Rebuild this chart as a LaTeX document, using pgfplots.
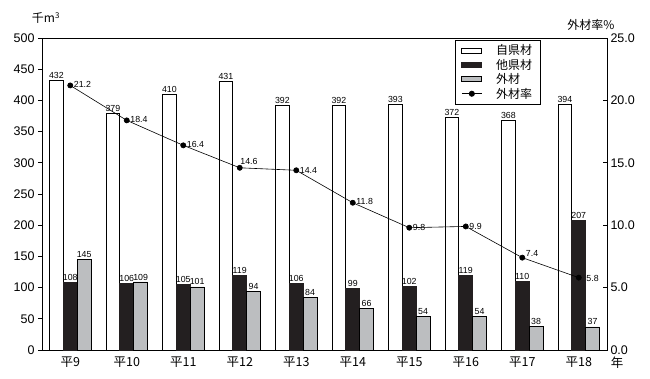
\documentclass[border=0pt]{standalone}
\usepackage{pgfplots}
\pgfplotsset{compat=1.18}
\usepackage{fontspec}
\setmainfont{Liberation Sans}
\newfontfamily\jp{Noto Sans CJK JP}
\definecolor{barblack}{HTML}{231F20}
\definecolor{bargray}{HTML}{BCBEC0}
\pgfplotsset{
  barleg/.style={legend image code/.code={\draw[##1, line width=0.8pt] (0pt,-2.5pt) rectangle (20pt,2.5pt);}},
  lineleg/.style={legend image code/.code={\draw[black, line width=0.6pt] (0pt,0pt) -- (20pt,0pt); \fill[black] (10pt,0pt) circle (2.6pt);}},
  ratelbl/.style={draw=none, mark=none, nodes near coords,
    nodes near coords style={font=\fontsize{8.8}{10}\selectfont, inner sep=1.5pt,
    /pgf/number format/fixed, /pgf/number format/fixed zerofill, /pgf/number format/precision=1}},
}
\begin{document}
\begin{tikzpicture}[x=1pt,y=1pt]
\useasboundingbox (0,0) rectangle (650,378);
\begin{axis}[
  at={(42pt,28pt)}, anchor=south west,
  scale only axis, width=565pt, height=312pt,
  xmin=-0.5, xmax=9.5, ymin=0, ymax=500,
  ytick={0,50,...,500},
  ytick pos=left, tick align=outside,
  major tick length=4pt,
  xtick={0,...,9},
  xticklabels={平9,平10,平11,平12,平13,平14,平15,平16,平17,平18},
  xticklabel style={font=\jp\fontsize{12.5}{13}\selectfont, yshift=1pt},
  xtick style={draw=none},
  yticklabel style={font=\fontsize{12.5}{14}\selectfont},
  /pgf/number format/assume math mode=true,
  axis line style={line width=0.9pt},
  every tick/.style={line width=0.8pt, black},
  nodes near coords style={font=\fontsize{8.8}{10}\selectfont, inner sep=1.5pt},
  legend style={at={(0.731,0.994)}, anchor=north west, draw=black, line width=0.8pt,
    font=\jp\fontsize{12}{13}\selectfont, row sep=-1.2pt, inner xsep=6pt, inner ysep=2.5pt,
    /tikz/every odd column/.style={column sep=12pt}},
  legend cell align=left,
  clip=false,
]
\addplot[ybar, bar width=0.245, bar shift=-0.245, fill=white, draw=black, line width=0.8pt,
  nodes near coords, nodes near coords style={xshift=-13.85pt}, barleg]
  coordinates {(0,432) (1,379) (2,410) (3,431) (4,392) (5,392) (6,393) (7,372) (8,368) (9,394)};
\addlegendentry{自県材}
\addplot[ybar, bar width=0.245, bar shift=0, fill=barblack, draw=barblack, line width=0.8pt,
  nodes near coords, barleg]
  coordinates {(0,108) (1,106) (2,105) (3,119) (4,106) (5,99) (6,102) (7,119) (8,110) (9,207)};
\addlegendentry{他県材}
\addplot[ybar, bar width=0.245, bar shift=0.245, fill=bargray, draw=black, line width=0.8pt,
  nodes near coords, nodes near coords style={xshift=13.85pt}, barleg]
  coordinates {(0,145) (1,109) (2,101) (3,94) (4,84) (5,66) (6,54) (7,54) (8,38) (9,37)};
\addlegendentry{外材}
\addlegendimage{lineleg}
\addlegendentry{外材率}
\end{axis}
\begin{axis}[
  at={(42pt,28pt)}, anchor=south west,
  scale only axis, width=565pt, height=312pt,
  xmin=-0.5, xmax=9.5, ymin=0, ymax=25,
  axis x line=none, axis y line*=right,
  ytick={0,5,...,25},
  tick align=inside, major tick length=4pt,
  every tick/.style={line width=0.8pt, black},
  axis line style={line width=0.9pt},
  yticklabel style={font=\fontsize{12.5}{14}\selectfont,
    /pgf/number format/fixed, /pgf/number format/fixed zerofill, /pgf/number format/precision=1},
  /pgf/number format/assume math mode=true,
  clip=false,
]
\addplot[black, line width=0.6pt, mark=*, mark size=2.6pt]
  coordinates {(0,21.2) (1,18.4) (2,16.4) (3,14.6) (4,14.4) (5,11.8) (6,9.8) (7,9.9) (8,7.4) (9,5.8)};
\addplot[ratelbl, nodes near coords style={anchor=west, xshift=2pt, yshift=1pt}]
  coordinates {(0,21.2) (1,18.4) (2,16.4) (5,11.8)};
\addplot[ratelbl, nodes near coords style={anchor=west, xshift=2pt}]
  coordinates {(4,14.4) (6,9.8) (7,9.9)};
\addplot[ratelbl, nodes near coords style={anchor=west, xshift=6pt, yshift=-1pt}]
  coordinates {(9,5.8)};
\addplot[ratelbl, nodes near coords style={anchor=south west, xshift=-1pt, yshift=2pt}]
  coordinates {(3,14.6)};
\addplot[ratelbl, nodes near coords style={anchor=south west, xshift=2pt, yshift=-1pt}]
  coordinates {(8,7.4)};
\end{axis}
\node[font=\jp\fontsize{12}{14}\selectfont, inner sep=0pt] at (46,360) {千m\textsuperscript{3}};
\node[font=\jp\fontsize{12}{14}\selectfont, inner sep=0pt] at (591,353) {外材率\%};
\node[font=\jp\fontsize{12.5}{14}\selectfont, inner sep=0pt] at (617,15) {年};
\end{tikzpicture}
\end{document}
